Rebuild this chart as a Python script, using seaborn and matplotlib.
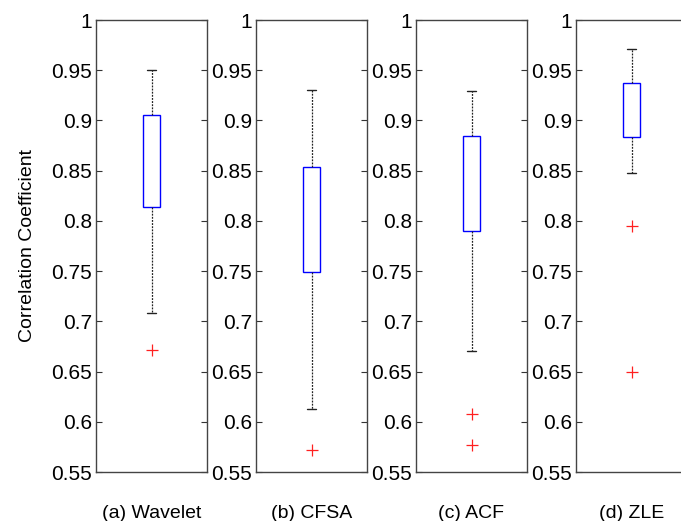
import numpy as np
import pandas as pd
import matplotlib
matplotlib.use("Agg")
import matplotlib.pyplot as plt
import seaborn as sns

# Data
methods = ["(a) Wavelet", "(b) CFSA", "(c) ACF", "(d) ZLE"]
wavelet = [0.671, 0.708, 0.814, 0.845, 0.870, 0.890, 0.905, 0.930, 0.950]
cfsa = [0.572, 0.613, 0.749, 0.780, 0.810, 0.835, 0.854, 0.890, 0.930]
acf = [0.577, 0.608, 0.670, 0.790, 0.800, 0.820, 0.840, 0.850, 0.870,
       0.885, 0.900, 0.915, 0.929]
zle = [0.650, 0.795, 0.848, 0.884, 0.890, 0.900, 0.910, 0.920, 0.930,
       0.937, 0.950, 0.960, 0.971]
series = [wavelet, cfsa, acf, zle]
ytick_vals = [0.55, 0.6, 0.65, 0.7, 0.75, 0.8, 0.85, 0.9, 0.95, 1.0]
ytick_labels = ["0.55", "0.6", "0.65", "0.7", "0.75", "0.8", "0.85", "0.9", "0.95", "1"]

sns.set_theme(style="white")
plt.rcParams['font.family'] = ['Liberation Sans', 'DejaVu Sans']

W, H = 681, 521
fig = plt.figure(figsize=(W / 100, H / 100), dpi=100)
fig.patch.set_facecolor("white")

for i, (name, vals) in enumerate(zip(methods, series)):
    ax = fig.add_axes([(96 + 160 * i) / W, 1 - 472 / H, 111 / W, 452 / H])
    df = pd.DataFrame({"method": [name] * len(vals), "corr": vals})
    sns.boxplot(data=df, y="corr", ax=ax, width=0.15, whis=1.5,
                boxprops=dict(edgecolor="#0000FF", facecolor="white", linewidth=1.0),
                whiskerprops=dict(color="#222222", linestyle=(0, (1.5, 1)), linewidth=0.9),
                capprops=dict(color="#222222", linewidth=1.0),
                medianprops=dict(visible=False),
                flierprops=dict(marker="+", markeredgecolor="#FF2020",
                                markerfacecolor="none", markersize=9,
                                markeredgewidth=0.9))
    ax.set_xlim(-0.5, 0.5)
    ax.set_ylim(0.55, 1.0)
    ax.set_yticks(ytick_vals)
    ax.set_yticklabels(ytick_labels)
    ax.set_xticks([])
    ax.yaxis.set_ticks_position("both")
    ax.tick_params(axis="y", direction="in", length=4, width=0.8,
                   colors="#333333", labelsize=15, labelcolor="black", pad=3)
    for sp in ax.spines.values():
        sp.set_visible(True)
        sp.set_color("#444444")
        sp.set_linewidth(1.0)
    ax.set_xlabel(name, fontsize=14, labelpad=24, color="black")
    if i == 0:
        ax.set_ylabel("Correlation Coefficient", fontsize=14, labelpad=11, color="black")
    else:
        ax.set_ylabel("")

fig.savefig("out.png", dpi=100, facecolor="white")
